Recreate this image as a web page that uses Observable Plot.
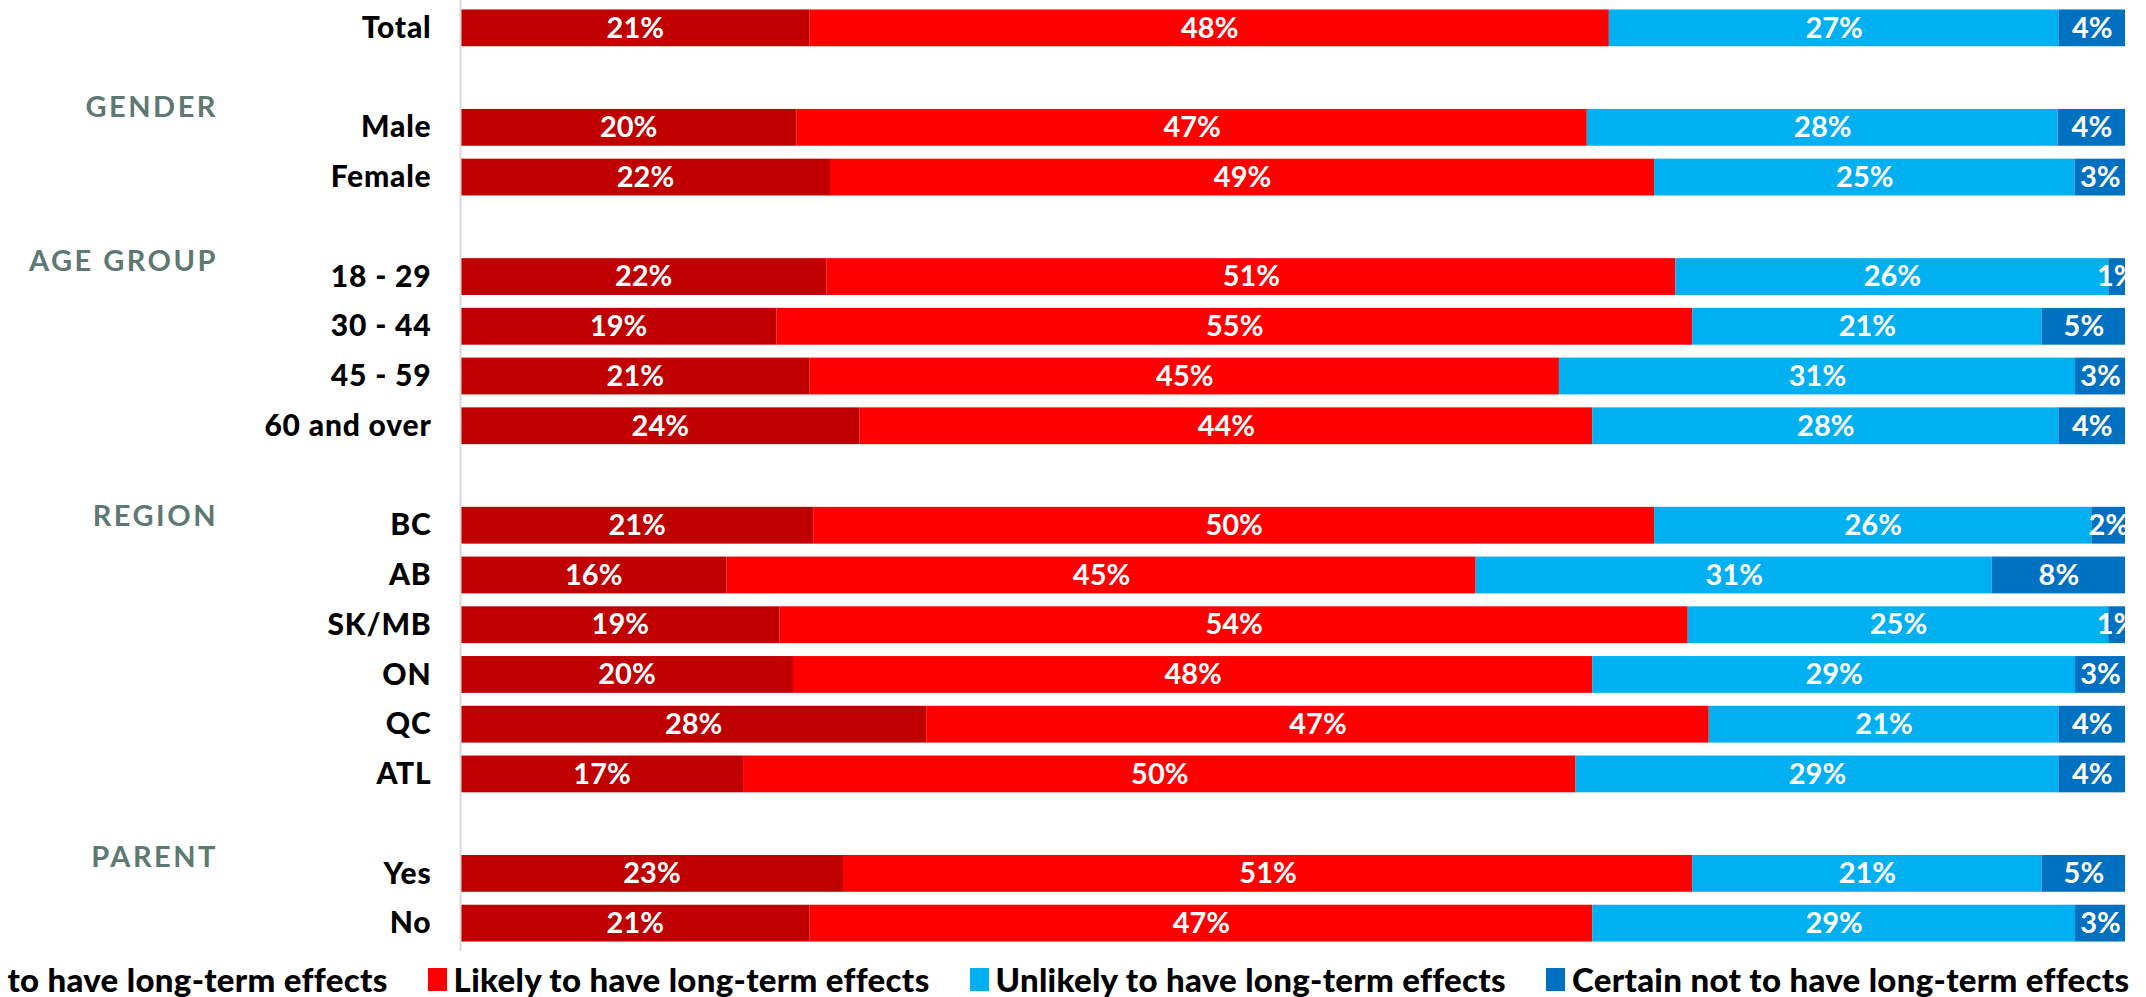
<!DOCTYPE html>
<html>
<head>
<meta charset="utf-8">
<script src="https://cdn.jsdelivr.net/npm/d3@7"></script>
<script src="https://cdn.jsdelivr.net/npm/@observablehq/plot@0.6"></script>
<style>
  html, body { margin: 0; padding: 0; background: #fff; overflow: hidden; }
  #chart svg { display: block; }
  #legend { position: relative; width: 2146px; height: 42px; overflow: visible; }
  #legend .inner { position: absolute; left: 0; top: 3px; display: flex; align-items: center; height: 42px; white-space: nowrap;
    font-family: Lato, sans-serif; font-weight: 900; font-size: 33px; letter-spacing: 0.3px; color: #000; }
  #legend .item { display: flex; align-items: center; margin-right: 40px; }
  #legend .sw { display: inline-block; width: 19px; height: 23px; margin-right: 7px; }
</style>
</head>
<body>
<div id="chart"></div>
<div id="legend"></div>
<script>
// ---- data ----
const categories = ["Total","Male","Female","18 - 29","30 - 44","45 - 59","60 and over","BC","AB","SK/MB","ON","QC","ATL","Yes","No"];
const certain    = [21,20,22,22,19,21,24,21,16,19,20,28,17,23,21];
const likely     = [48,47,49,51,55,45,44,50,45,54,48,47,50,51,47];
const unlikely   = [27,28,25,26,21,31,28,26,31,25,29,21,29,21,29];
const certainNot = [4,4,3,1,5,3,4,2,8,1,3,4,4,5,3];
const seriesNames = ["Certain to have long-term effects","Likely to have long-term effects","Unlikely to have long-term effects","Certain not to have long-term effects"];
const seriesColors = ["#C00000","#FF0000","#00B0F0","#0070C0"];
const groupHeaders = ["GENDER","AGE GROUP","REGION","PARENT"];
const groupFirstRow = ["Male","18 - 29","BC","Yes"];

// row order including spacer rows between groups
const rowDomain = ["Total","_s1","Male","Female","_s2","18 - 29","30 - 44","45 - 59","60 and over","_s3","BC","AB","SK/MB","ON","QC","ATL","_s4","Yes","No"];

const seriesValues = [certain, likely, unlikely, certainNot];
const table = [];
categories.forEach((c, i) => {
  seriesNames.forEach((s, j) => table.push({row: c, series: s, value: seriesValues[j][i]}));
});

const headerDy = [-20, -15, -9, -16];
const font = "Lato, sans-serif";

const marks = [
  Plot.barX(table, Plot.stackX({x: "value", y: "row", fill: "series", order: seriesNames, offset: "normalize"})),
  Plot.text(table, Plot.stackX({x: "value", y: "row", z: "series", order: seriesNames, offset: "normalize",
    text: d => d.value + "%", fill: "white", fontWeight: 700, fontSize: 29, fontFamily: font, clip: true})),
  Plot.ruleX([0], {stroke: "#d9d9d9", strokeWidth: 2}),
  Plot.text(categories, {y: d => d, text: d => d, frameAnchor: "left", dx: -29, textAnchor: "end",
    fill: "#000", fontWeight: 900, fontSize: 30, fontFamily: font}),
  ...groupHeaders.map((h, i) => Plot.text([h], {y: () => groupFirstRow[i], text: d => d, frameAnchor: "left",
    dx: -242.5, dy: headerDy[i], textAnchor: "end", fill: "#5E7872", fontWeight: 700, fontSize: 29, fontFamily: font}))
];

const chart = Plot.plot({
  width: 2146,
  height: 955,
  marginLeft: 460,
  marginRight: 21,
  marginTop: 0,
  marginBottom: 4,
  style: {fontFamily: font, background: "#fff"},
  x: {domain: [0, 1], axis: null},
  y: {domain: rowDomain, axis: null, paddingInner: 0.26, paddingOuter: 0.13, insetTop: 3, insetBottom: 3, round: false},
  color: {domain: seriesNames, range: seriesColors},
  marks
});
document.getElementById("chart").appendChild(chart);

// letter spacing for the group headers and row labels
d3.select(chart).selectAll("text").filter(function() { return groupHeaders.includes(this.textContent); })
  .style("letter-spacing", "2.5px");
d3.select(chart).selectAll("text").filter(function() { return categories.includes(this.textContent); })
  .style("letter-spacing", "0.8px");

// ---- legend ----
const legend = document.getElementById("legend");
const inner = document.createElement("div");
inner.className = "inner";
seriesNames.forEach((s, i) => {
  const it = document.createElement("div");
  it.className = "item";
  const sw = document.createElement("span");
  sw.className = "sw";
  sw.style.background = seriesColors[i];
  const tx = document.createElement("span");
  tx.textContent = s;
  it.appendChild(sw); it.appendChild(tx);
  inner.appendChild(it);
});
legend.appendChild(inner);
// position so that the second legend swatch sits at x≈428
const second = inner.children[1];
inner.style.left = (428 - second.offsetLeft) + "px";
</script>
</body>
</html>
